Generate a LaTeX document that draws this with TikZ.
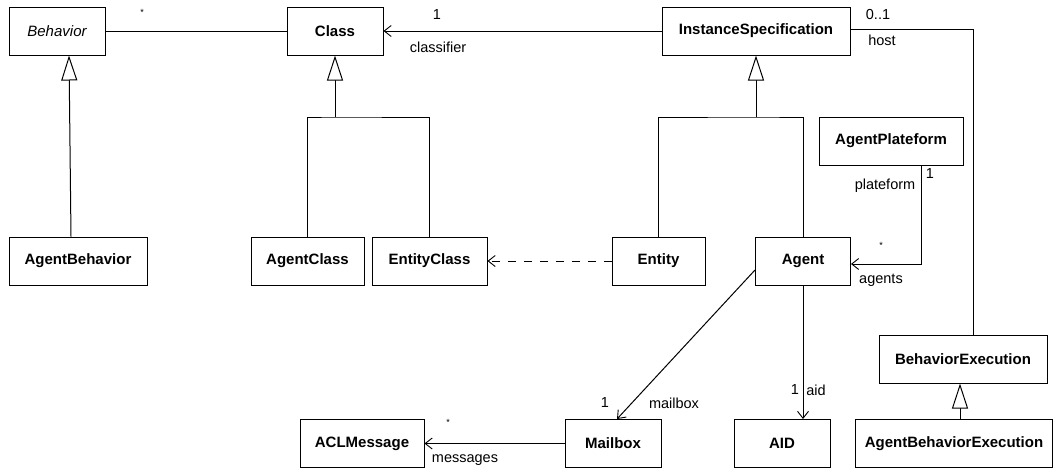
\documentclass[tikz,border=0pt]{standalone}
\usepackage{fontspec}
\setmainfont{Liberation Sans}
\usetikzlibrary{arrows.meta,calc}
\begin{document}
\begin{tikzpicture}[x=1pt,y=-1pt,
  box/.style={draw, line width=1pt, fill=white, minimum height=48pt, inner sep=0pt,
    font=\fontsize{15}{17}\selectfont\bfseries},
  lbl/.style={inner sep=0pt, font=\fontsize{14.5}{16}\selectfont},
  star/.style={inner sep=0pt, font=\fontsize{9}{9}\selectfont},
  conn/.style={line width=1pt},
  gen/.style={conn, -{Triangle[open, length=25pt, width=16pt, fill=white]}},
  assoc/.style={conn, -{Straight Barb[length=7pt, width=11pt, line width=0.9pt]}},
  dep/.style={conn, dash pattern=on 8pt off 8pt, -{Straight Barb[length=7pt, width=11pt, line width=0.9pt]}}]
\useasboundingbox (0,0) rectangle (1054,469);
% nodes
\node[box, minimum width=96pt, font=\fontsize{15}{17}\selectfont\itshape] (behavior) at (57,31) {Behavior};
\node[box, minimum width=96pt] (class) at (335,31) {Class};
\node[box, minimum width=188pt] (inst) at (756,31) {InstanceSpecification};
\node[box, minimum width=144pt] (plat) at (891,141) {AgentPlateform};
\node[box, minimum width=138pt] (agentbeh) at (78,261) {AgentBehavior};
\node[box, minimum width=113pt] (agentclass) at (307.5,261) {AgentClass};
\node[box, minimum width=115pt] (entityclass) at (429.5,261) {EntityClass};
\node[box, minimum width=93pt] (entity) at (658.5,261) {Entity};
\node[box, minimum width=95pt] (agent) at (803,261) {Agent};
\node[box, minimum width=168pt] (behexec) at (963,359) {BehaviorExecution};
\node[box, minimum width=124pt] (aclmsg) at (362,443.5) {ACLMessage};
\node[box, minimum width=96pt] (mailbox) at (613,443.5) {Mailbox};
\node[box, minimum width=96pt] (aid) at (782,443.5) {AID};
\node[box, minimum width=197pt] (abexec) at (954,443.5) {AgentBehaviorExecution};
% coordinates
\coordinate (j1) at (335,117);
\coordinate (j2) at (756,117);
\coordinate (hc) at (973,29);
\coordinate (pc) at (921,264);
% Behavior -- Class
\draw[conn] (behavior.east) -- (class.west);
\node[star] (s1) at (142,12) {*};
% generalizations
\draw[gen] ($(agentbeh.north)+(-7,0)$) -- ($(behavior.south)+(12,0)$);
\draw[conn] (agentclass.north) |- (j1) -| (entityclass.north);
\draw[gen] (j1) -- (class.south);
\draw[conn] (entity.north) |- (j2) -| (agent.north);
\draw[gen] (j2) -- (inst.south);
\draw[gen] ($(abexec.north)+(6,0)$) -- ($(behexec.south)+(-3,0)$);
% classifier
\draw[assoc] (inst.west) -- (class.east);
\node[lbl] (l1) at (437,15) {1};
\node[lbl] (lcl) at (438,47) {classifier};
% host
\draw[conn] (inst.east |- hc) -- (hc) -- (hc |- behexec.north);
\node[lbl] (l01) at (878,15) {0..1};
\node[lbl] (lhost) at (882,40) {host};
% plateform
\draw[assoc] (plat.south -| pc) -- (pc) -- (pc -| agent.east);
\node[lbl] (lp1) at (930,174) {1};
\node[lbl] (lplat) at (885,186) {plateform};
\node[star] (s2) at (881,245) {*};
\node[lbl] (lagents) at (881,280) {agents};
% dependency
\draw[dep] (entity.west) -- (entityclass.east);
% mailbox
\draw[assoc] ($(agent.west)+(0,9)$) -- ($(mailbox.north)+(4,0)$);
\node[lbl] (lm1) at (605,403) {1};
\node[lbl] (lmb) at (674,403) {mailbox};
% aid
\draw[assoc] (agent.south) -- (agent.south |- aid.north);
\node[lbl] (la1) at (795,390) {1};
\node[lbl] (laid) at (816,390) {aid};
% messages
\draw[assoc] (mailbox.west) -- (aclmsg.east);
\node[star] (s3) at (448,422) {*};
\node[lbl] (lmsg) at (465,460) {messages};
\end{tikzpicture}
\end{document}
